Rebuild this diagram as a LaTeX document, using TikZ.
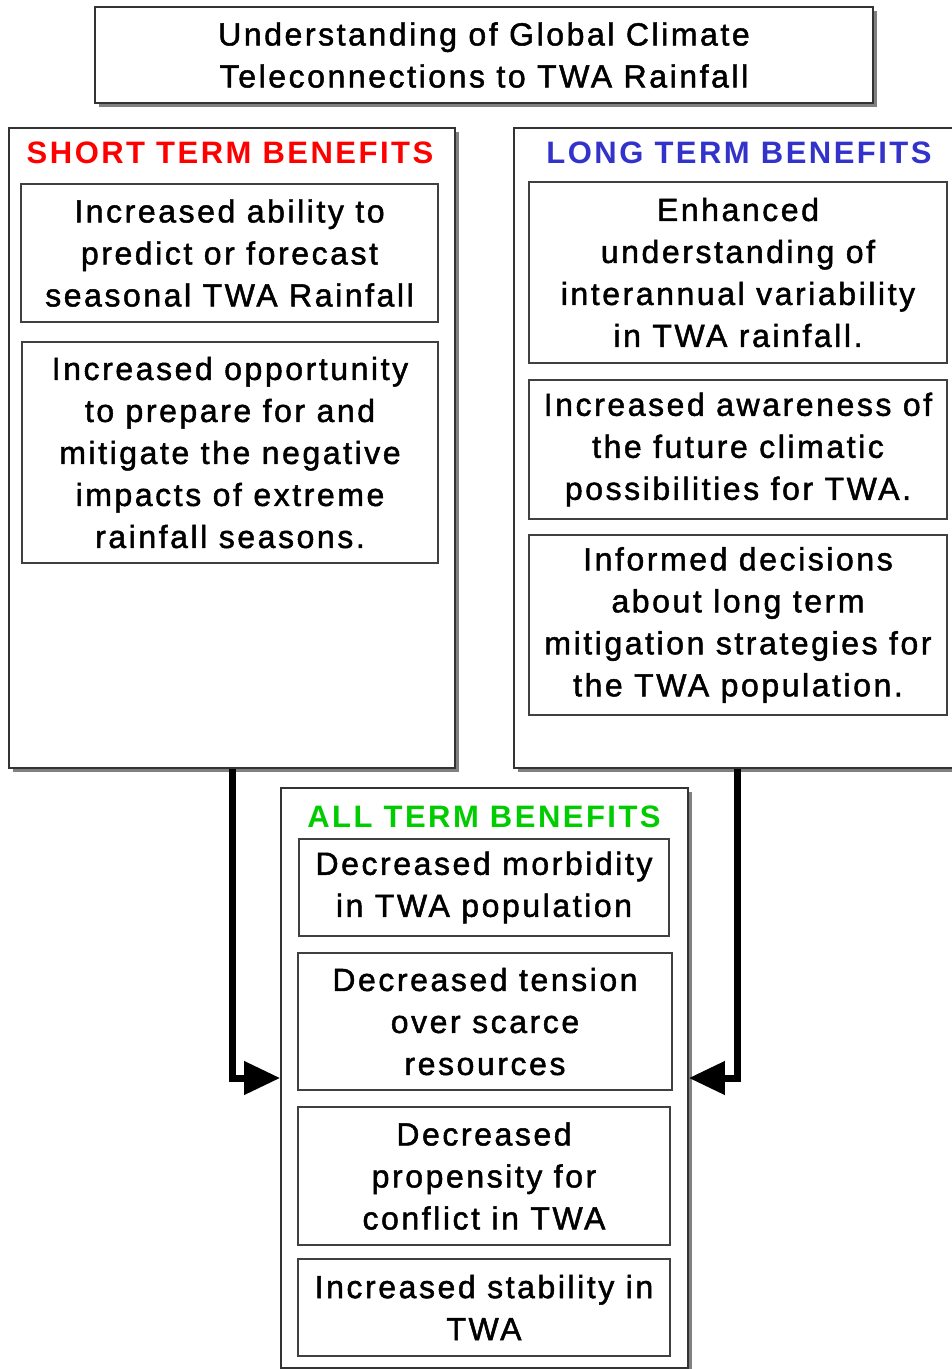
\documentclass[tikz,border=0pt]{standalone}
\usepackage{fontspec}
\setmainfont{Liberation Sans}[LetterSpace=8, FakeBold=1.5]
\newfontfamily\hdrfont{Liberation Sans}[LetterSpace=8]
\usetikzlibrary{shadows,arrows.meta}
\definecolor{hdrred}{RGB}{255,0,0}
\definecolor{hdrblue}{RGB}{51,51,204}
\definecolor{hdrgreen}{RGB}{0,204,0}
\begin{document}
\begin{tikzpicture}[x=1pt,y=-1pt,
  txt/.style={align=center, font=\fontsize{32}{42}\selectfont},
  box/.style={txt, draw=black!75, line width=1.3pt, fill=white, inner sep=0pt},
  outer/.style={draw=black!80, line width=1.6pt, fill=white, inner sep=0pt,
    drop shadow={shadow xshift=4pt, shadow yshift=-4pt, fill=black!50, opacity=1}},
  hdr/.style={inner sep=0pt, font=\hdrfont\bfseries\fontsize{31}{36}\selectfont},
  arr/.style={line width=7pt, -{Triangle[length=36pt,width=32pt]}}]
\useasboundingbox (0,0) rectangle (952,1369);
\fill[white] (0,0) rectangle (952,1369);

% title
\node[outer, txt, minimum width=778pt, minimum height=96pt] (title) at (484,55)
  {Understanding of Global Climate\\Teleconnections to TWA Rainfall};

% short term
\node[outer, minimum width=446pt, minimum height=640pt] (short) at (232,448) {};
\node[hdr, text=hdrred] (shorth) at (230,153) {SHORT TERM BENEFITS};
\node[box, minimum width=417pt, minimum height=138pt] (s1) at (229.5,253)
  {Increased ability to\\predict or forecast\\seasonal TWA Rainfall};
\node[box, minimum width=416pt, minimum height=221pt] (s2) at (230,452.5)
  {Increased opportunity\\to prepare for and\\mitigate the negative\\impacts of extreme\\rainfall seasons.};

% long term
\node[outer, minimum width=446pt, minimum height=640pt] (long) at (737,448) {};
\node[hdr, text=hdrblue] (longh) at (739,153) {LONG TERM BENEFITS};
\node[box, minimum width=418pt, minimum height=181pt] (l1) at (738,272.5)
  {Enhanced\\understanding of\\interannual variability\\in TWA rainfall.};
\node[box, minimum width=418pt, minimum height=139pt] (l2) at (738,449.5)
  {Increased awareness of\\the future climatic\\possibilities for TWA.};
\node[box, minimum width=418pt, minimum height=180pt] (l3) at (738,625)
  {Informed decisions\\about long term\\mitigation strategies for\\the TWA population.};

% all term
\node[outer, minimum width=407pt, minimum height=580pt] (all) at (484.5,1078) {};
\node[hdr, text=hdrgreen] (allh) at (484,817) {ALL TERM BENEFITS};
\node[box, minimum width=370pt, minimum height=97pt] (a1) at (484,887.5)
  {Decreased morbidity\\in TWA population};
\node[box, minimum width=374pt, minimum height=137pt] (a2) at (485,1021.5)
  {Decreased tension\\over scarce\\resources};
\node[box, minimum width=372pt, minimum height=138pt] (a3) at (484,1176)
  {Decreased\\propensity for\\conflict in TWA};
\node[box, minimum width=372pt, minimum height=97pt] (a4) at (484,1307.5)
  {Increased stability in\\TWA};

% arrows
\draw[arr] (short.south) |- (all.west);
\draw[arr] (long.south) |- (all.east);
\end{tikzpicture}
\end{document}
